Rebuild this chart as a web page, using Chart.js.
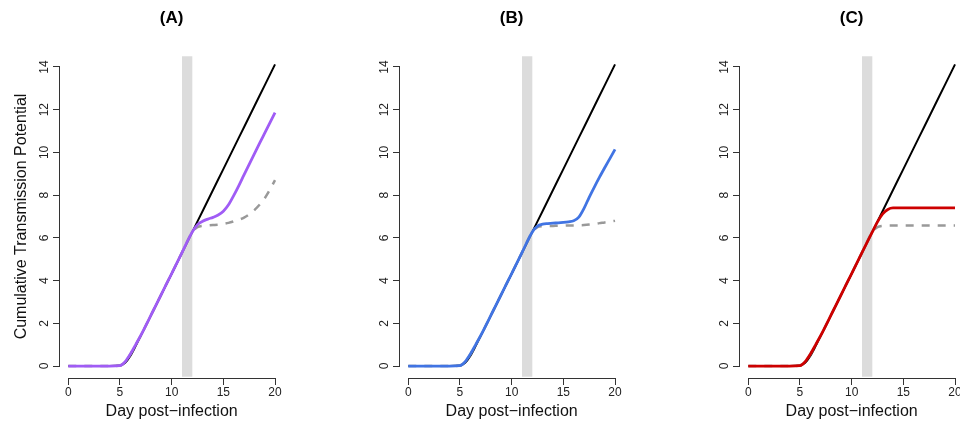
<!DOCTYPE html>
<html lang="en">
<head>
  <meta charset="UTF-8">
  <title>Cumulative Transmission Potential</title>
  <style>
    body { margin: 0; background: #fff; }
    #wrap { position: relative; width: 960px; height: 425px; overflow: hidden; }
    #wrap canvas { position: absolute; top: 0; }
  </style>
</head>
<body>
  <div id="wrap">
    <canvas id="chartA" width="340" height="425" style="left:0px"></canvas>
    <canvas id="chartB" width="340" height="425" style="left:340px"></canvas>
    <canvas id="chartC" width="340" height="425" style="left:680px"></canvas>
  </div>

  <script src="https://cdn.jsdelivr.net/npm/chart.js"></script>
  <script>
    // day post-infection (shared x values for every curve)
    const days = [0, 1, 2, 3, 4, 5, 5.5, 6, 6.5, 7, 8, 9, 10, 11, 12, 12.5, 13, 13.5, 14, 14.5,
                  15, 15.5, 16, 16.5, 17, 17.5, 18, 18.5, 19, 19.5, 20];

    // black line: no treatment
    const untreated = [0, 0, 0, 0, 0, 0.02, 0.15, 0.47, 0.92, 1.4, 2.37, 3.35, 4.32, 5.3, 6.28, 6.77, 7.26, 7.75, 8.24, 8.73,
                       9.22, 9.71, 10.2, 10.69, 11.18, 11.67, 12.16, 12.65, 13.14, 13.63, 14.12];

    // panel A
    const purpleA = [0, 0, 0, 0, 0, 0.02, 0.2, 0.55, 0.98, 1.42, 2.38, 3.36, 4.33, 5.31, 6.28, 6.62, 6.78, 6.88, 6.96, 7.07,
                     7.25, 7.55, 7.98, 8.45, 8.95, 9.44, 9.93, 10.42, 10.9, 11.38, 11.86];
    const greyA = [0, 0, 0, 0, 0, 0.02, 0.2, 0.55, 0.98, 1.42, 2.38, 3.36, 4.33, 5.31, 6.28, 6.5, 6.56, 6.58, 6.6, 6.62,
                   6.65, 6.7, 6.77, 6.85, 6.95, 7.1, 7.3, 7.55, 7.85, 8.25, 8.7];

    // panel B
    const blueB = [0, 0, 0, 0, 0, 0.02, 0.2, 0.55, 0.98, 1.42, 2.38, 3.36, 4.33, 5.31, 6.28, 6.55, 6.64, 6.67, 6.69, 6.7,
                   6.72, 6.75, 6.8, 6.97, 7.38, 7.9, 8.38, 8.84, 9.28, 9.71, 10.14];
    const greyB = [0, 0, 0, 0, 0, 0.02, 0.2, 0.55, 0.98, 1.42, 2.38, 3.36, 4.33, 5.31, 6.28, 6.5, 6.55, 6.56, 6.56, 6.57,
                   6.57, 6.58, 6.58, 6.59, 6.6, 6.62, 6.65, 6.69, 6.72, 6.76, 6.8];

    // panel C
    const redC = [0, 0, 0, 0, 0, 0.02, 0.2, 0.55, 0.98, 1.42, 2.38, 3.36, 4.33, 5.31, 6.28, 6.75, 7.12, 7.33, 7.4, 7.4,
                  7.4, 7.4, 7.4, 7.4, 7.4, 7.4, 7.4, 7.4, 7.4, 7.4, 7.4];
    const greyC = [0, 0, 0, 0, 0, 0.02, 0.2, 0.55, 0.98, 1.42, 2.38, 3.36, 4.33, 5.31, 6.28, 6.5, 6.56, 6.58, 6.58, 6.58,
                   6.58, 6.58, 6.58, 6.58, 6.58, 6.58, 6.58, 6.58, 6.58, 6.58, 6.58];

    const xTicks = [0, 5, 10, 15, 20];
    const yTicks = [0, 2, 4, 6, 8, 10, 12, 14];
    const bandDays = [11, 12];      // shaded window
    const bandLevels = [-0.5, 14.5];

    const FONT = "'Liberation Sans', Arial, Helvetica, sans-serif";

    function points(arr) {
      return days.map((d, i) => ({ x: d, y: arr[i] }));
    }

    // R-style extras: grey band and axis lines that only span the tick range
    const rStyle = {
      id: 'rStyle',
      beforeDatasetsDraw(chart) {
        const { ctx, scales: { x, y } } = chart;
        const x0 = x.getPixelForValue(bandDays[0]);
        const x1 = x.getPixelForValue(bandDays[1]);
        const y0 = y.getPixelForValue(bandLevels[1]);
        const y1 = y.getPixelForValue(bandLevels[0]);
        ctx.save();
        ctx.fillStyle = '#dcdcdc';
        ctx.fillRect(x0, y0, x1 - x0, y1 - y0);
        ctx.restore();
      },
      afterDraw(chart) {
        const { ctx, chartArea, scales: { x, y } } = chart;
        ctx.save();
        ctx.strokeStyle = '#333';
        ctx.lineWidth = 1;
        const by = Math.round(chartArea.bottom) + 0.5;
        const lx = Math.round(chartArea.left) - 0.5;
        ctx.beginPath();
        ctx.moveTo(x.getPixelForValue(xTicks[0]), by);
        ctx.lineTo(x.getPixelForValue(xTicks[xTicks.length - 1]), by);
        ctx.moveTo(lx, y.getPixelForValue(yTicks[0]));
        ctx.lineTo(lx, y.getPixelForValue(yTicks[yTicks.length - 1]));
        ctx.stroke();
        ctx.restore();
      }
    };

    function makeChart(id, title, series, grey, color, yTitle) {
      const ctx = document.getElementById(id).getContext('2d');
      return new Chart(ctx, {
        type: 'line',
        data: {
          datasets: [
            { data: points(series), borderColor: color, borderWidth: 2.8 },
            { data: points(grey), borderColor: '#999999', borderWidth: 2.5, borderDash: [8, 8] },
            { data: points(untreated), borderColor: '#000000', borderWidth: 2 }
          ]
        },
        options: {
          responsive: false,
          animation: false,
          events: [],
          layout: { padding: { left: 0, right: 56.7, top: 0, bottom: 0 } },
          elements: {
            point: { radius: 0 },
            line: { cubicInterpolationMode: 'monotone', fill: false }
          },
          plugins: {
            legend: { display: false },
            tooltip: { enabled: false },
            title: {
              display: true,
              text: title,
              fullSize: false,
              color: '#000',
              font: { family: FONT, size: 17, weight: 'bold' },
              padding: { top: 8.3, bottom: 26.3 }
            }
          },
          scales: {
            x: {
              type: 'linear',
              min: -0.8,
              max: 20.8,
              afterBuildTicks: s => { s.ticks = xTicks.map(v => ({ value: v })); },
              afterFit: s => { s.height = 47; },
              border: { display: false },
              grid: { drawOnChartArea: false, drawTicks: true, tickLength: 7, color: '#333', lineWidth: 1 },
              ticks: { color: '#222', padding: 0, maxRotation: 0, font: { family: FONT, size: 12 }, callback: v => String(v) },
              title: { display: true, text: 'Day post\u2212infection', color: '#111',
                       font: { family: FONT, size: 16 }, padding: { top: 0, bottom: 3.6 } }
            },
            y: {
              type: 'linear',
              min: -0.56,
              max: 14.56,
              afterBuildTicks: s => { s.ticks = yTicks.map(v => ({ value: v })); },
              afterFit: s => { s.width = 60; },
              border: { display: false },
              grid: { drawOnChartArea: false, drawTicks: true, tickLength: 7, color: '#333', lineWidth: 1 },
              ticks: { color: '#222', padding: 2, minRotation: 90, maxRotation: 90, crossAlign: 'center',
                       font: { family: FONT, size: 12 }, callback: v => String(v) },
              title: { display: yTitle, text: 'Cumulative Transmission Potential', color: '#111',
                       font: { family: FONT, size: 16 }, padding: { top: 12, bottom: 0 } }
            }
          }
        },
        plugins: [rStyle]
      });
    }

    makeChart('chartA', '(A)', purpleA, greyA, '#A05CF5', true);
    makeChart('chartB', '(B)', blueB, greyB, '#4174E3', false);
    makeChart('chartC', '(C)', redC, greyC, '#CD0000', false);
  </script>
</body>
</html>
